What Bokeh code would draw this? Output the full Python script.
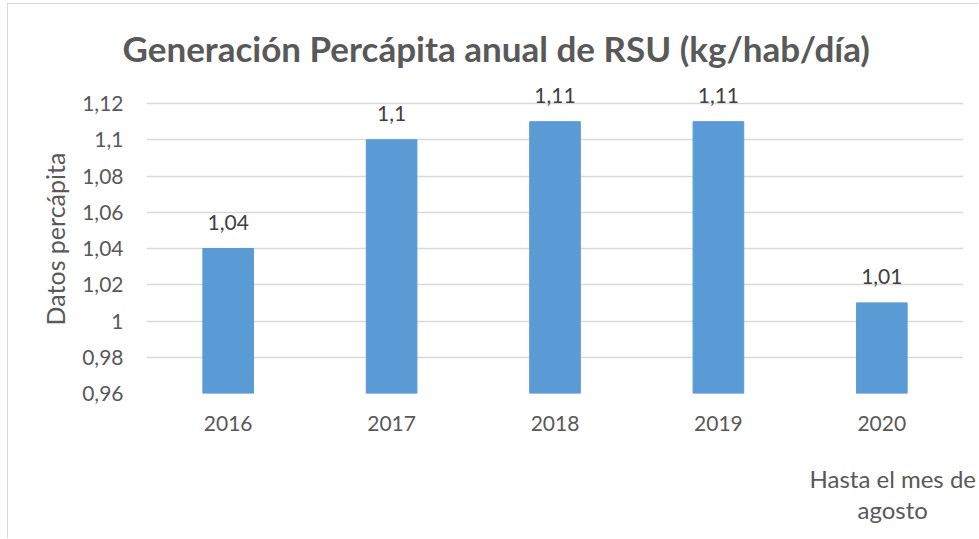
from bokeh.plotting import figure
from bokeh.models import ColumnDataSource, FactorRange, Range1d, FixedTicker, Title, CategoricalAxis
from bokeh.core.properties import value
from bokeh.embed import file_html
from bokeh.resources import INLINE

years = ["2016", "2017", "2018", "2019", "2020"]
values = [1.04, 1.10, 1.11, 1.11, 1.01]
value_labels = ["1,04", "1,1", "1,11", "1,11", "1,01"]
y_ticks = [0.96, 0.98, 1.00, 1.02, 1.04, 1.06, 1.08, 1.10, 1.12]
y_tick_labels = ["0,96", "0,98", "1", "1,02", "1,04", "1,06", "1,08", "1,1", "1,12"]
title_text = "Generación Percápita anual de RSU (kg/hab/día)"
y_title = "Datos percápita"
x_note = ["Hasta el mes de", "agosto"]

FONT = "Lato"
GRAY = "#595959"

src = ColumnDataSource(dict(x=years, top=values, lbl=value_labels))

p = figure(
    x_range=FactorRange(*years), y_range=Range1d(0.96, 1.1305),
    width=971, height=535, output_backend="svg", toolbar_location=None,
    min_border_left=138, min_border_right=16, min_border_top=80, min_border_bottom=146,
)
p.styles = {"margin-left": "7px", "margin-top": "3px",
            "border-left": "1px solid #d9d9d9", "border-top": "1px solid #d9d9d9"}
p.outline_line_color = None
p.background_fill_color = "white"
p.border_fill_color = "white"

p.vbar(x="x", top="top", bottom=0.96, width=0.31, source=src,
       fill_color="#5B9BD5", line_color="#5B9BD5")
p.text(x="x", y="top", text="lbl", source=src, text_align="center",
       text_baseline="middle", y_offset=-26, text_font=value(FONT),
       text_font_size="21px", text_color="#404040")

p.title.text = title_text
p.title.align = "left"
p.title.offset = -24
p.title.text_font = FONT
p.title.text_font_size = "35px"
p.title.text_font_style = "bold"
p.title.text_color = GRAY
p.title.standoff = 32

p.yaxis.ticker = FixedTicker(ticks=y_ticks)
p.yaxis.major_label_overrides = {t: l for t, l in zip(y_ticks, y_tick_labels)}
p.yaxis.axis_label = y_title
for ax in (p.xaxis, p.yaxis):
    ax.axis_line_color = None
    ax.major_tick_line_color = None
    ax.minor_tick_line_color = None
    ax.major_label_text_font = FONT
    ax.major_label_text_font_size = "21px"
    ax.major_label_text_color = GRAY
    ax.axis_label_text_font = FONT
    ax.axis_label_text_font_size = "25px"
    ax.axis_label_text_font_style = "normal"
    ax.axis_label_text_color = GRAY
p.yaxis.major_label_standoff = 17
p.yaxis.axis_label_standoff = 9
p.xaxis.major_label_standoff = 16

# empty spacer axis between the year labels and the note
spacer = CategoricalAxis(axis_line_color=None, major_tick_line_color=None,
                         minor_tick_line_color=None, major_tick_out=28,
                         major_label_standoff=0, major_label_text_font_size="1px",
                         major_label_text_color=None)
p.add_layout(spacer, "below")

p.xgrid.grid_line_color = None
p.ygrid.ticker = FixedTicker(ticks=y_ticks)
p.ygrid.grid_line_color = "#d9d9d9"
p.ygrid.grid_line_width = 1.5

for line, off in zip(x_note, [663, 711]):
    t = Title(text=line, align="left", offset=off, standoff=0,
              text_font=FONT, text_font_size="24px", text_font_style="normal",
              text_color=GRAY)
    p.add_layout(t, "below")

open("out.html", "w").write(file_html(p, INLINE))
